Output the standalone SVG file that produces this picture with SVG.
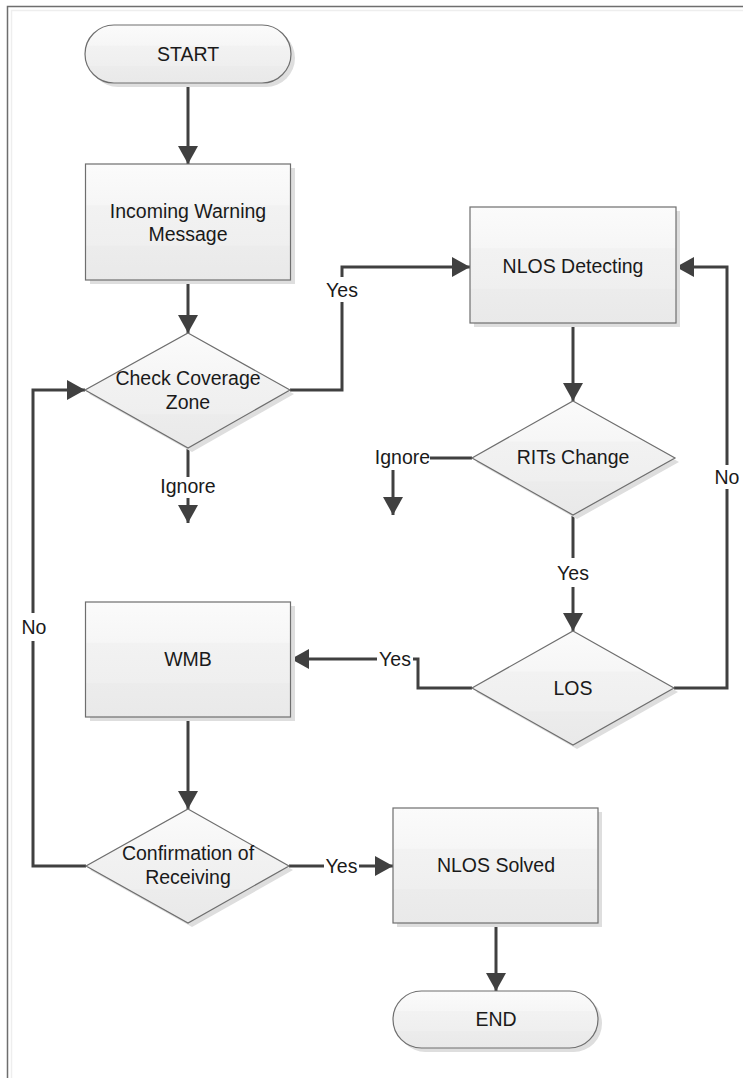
<svg xmlns="http://www.w3.org/2000/svg" width="743" height="1078" viewBox="0 0 743 1078">
<defs>
<linearGradient id="fillg" x1="0" y1="0" x2="0" y2="1">
<stop offset="0" stop-color="#fbfbfb"/>
<stop offset="0.35" stop-color="#f6f6f6"/>
<stop offset="0.36" stop-color="#f2f2f2"/>
<stop offset="0.7" stop-color="#efefef"/>
<stop offset="0.71" stop-color="#ececec"/>
<stop offset="1" stop-color="#e9e9e9"/>
</linearGradient>
<marker id="arr" markerUnits="userSpaceOnUse" markerWidth="20" markerHeight="20" viewBox="0 0 18 20" refX="18" refY="10" orient="auto">
<path d="M0,0 L18,10 L0,20 Z" fill="#404040"/>
</marker>
<style>
.shape{fill:url(#fillg);stroke:#6e6e6e;stroke-width:1.2}
.shadow{fill:#dedede}
.t{font-family:"Liberation Sans",Arial,sans-serif;font-size:19.5px;fill:#1a1a1a;text-anchor:middle}
.c{fill:none;stroke:#404040;stroke-width:3}
</style>
</defs>
<rect x="0" y="0" width="743" height="1078" fill="#ffffff"/>
<path d="M7.5,1078 V6.5 H743" fill="none" stroke="#6e6e6e" stroke-width="1.5"/>
<path d="M11.5,1078 V10.5 H743" fill="none" stroke="#eeeeee" stroke-width="1.5"/>

<g id="connectors">
<path class="c" d="M188,83 V164" marker-end="url(#arr)"/>
<path class="c" d="M188,280 V333" marker-end="url(#arr)"/>
<path class="c" d="M290,390 H342 V302"/>
<path class="c" d="M342,277 V267 H470" marker-end="url(#arr)"/>
<path class="c" d="M188,448 V477"/>
<path class="c" d="M188,498 V523" marker-end="url(#arr)"/>
<path class="c" d="M573,323 V401" marker-end="url(#arr)"/>
<path class="c" d="M472,458 H430"/>
<path class="c" d="M393,470 V515" marker-end="url(#arr)"/>
<path class="c" d="M573,515 V558"/>
<path class="c" d="M573,587 V631" marker-end="url(#arr)"/>
<path class="c" d="M674,688 H727 V489"/>
<path class="c" d="M727,465 V267 H676" marker-end="url(#arr)"/>
<path class="c" d="M472,688 H418 V659 H413"/>
<path class="c" d="M377,659 H291" marker-end="url(#arr)"/>
<path class="c" d="M188,717 V809" marker-end="url(#arr)"/>
<path class="c" d="M86,866 H33 V641"/>
<path class="c" d="M33,613 V390 H85" marker-end="url(#arr)"/>
<path class="c" d="M289,866 H324"/>
<path class="c" d="M359,866 H393" marker-end="url(#arr)"/>
<path class="c" d="M496,923 V991" marker-end="url(#arr)"/>
<text class="t" x="342" y="296.5">Yes</text>
<text class="t" x="188" y="492.5">Ignore</text>
<text class="t" x="402.5" y="464">Ignore</text>
<text class="t" x="573" y="579.5">Yes</text>
<text class="t" x="727" y="483.5">No</text>
<text class="t" x="395" y="666">Yes</text>
<text class="t" x="34" y="634">No</text>
<text class="t" x="341.5" y="872.5">Yes</text>
</g>

<g id="start">
<rect class="shadow" x="89" y="29" width="206" height="58" rx="29"/>
<rect class="shape" x="85" y="25" width="206" height="58" rx="29"/>
<text class="t" x="188" y="60.5">START</text>
</g>

<g id="incoming">
<rect class="shadow" x="90" y="168" width="205" height="116"/>
<rect class="shape" x="85.5" y="164" width="205" height="116"/>
<text class="t" x="188" y="217.5">Incoming Warning</text>
<text class="t" x="188" y="241">Message</text>
</g>

<g id="nlos-detecting">
<rect class="shadow" x="474" y="211" width="206" height="116"/>
<rect class="shape" x="470" y="207" width="206" height="116"/>
<text class="t" x="573" y="272.5">NLOS Detecting</text>
</g>

<g id="check-coverage">
<path class="shadow" d="M192,337 L294,394 L192,452 L89,394 Z"/>
<path class="shape" d="M188,333 L290,390 L188,448 L85,390 Z"/>
<text class="t" x="188" y="384.5">Check Coverage</text>
<text class="t" x="188" y="408.5">Zone</text>
</g>

<g id="rits-change">
<path class="shadow" d="M577,405 L679,462 L577,519 L476,462 Z"/>
<path class="shape" d="M573,401 L675,458 L573,515 L472,458 Z"/>
<text class="t" x="573" y="464">RITs Change</text>
</g>

<g id="los">
<path class="shadow" d="M577,635 L678,692 L577,749 L476,692 Z"/>
<path class="shape" d="M573,631 L674,688 L573,745 L472,688 Z"/>
<text class="t" x="573" y="695">LOS</text>
</g>

<g id="wmb">
<rect class="shadow" x="90" y="606" width="205" height="115"/>
<rect class="shape" x="85.5" y="602" width="205" height="115"/>
<text class="t" x="188" y="666">WMB</text>
</g>

<g id="confirmation">
<path class="shadow" d="M192,813 L293,870 L192,927 L90,870 Z"/>
<path class="shape" d="M188,809 L289,866 L188,923 L86,866 Z"/>
<text class="t" x="188" y="860">Confirmation of</text>
<text class="t" x="188" y="883.5">Receiving</text>
</g>

<g id="nlos-solved">
<rect class="shadow" x="397" y="812" width="205" height="115"/>
<rect class="shape" x="393" y="808" width="205" height="115"/>
<text class="t" x="496" y="872">NLOS Solved</text>
</g>

<g id="end">
<rect class="shadow" x="397" y="995" width="205" height="57" rx="28.5"/>
<rect class="shape" x="393" y="991" width="205" height="57" rx="28.5"/>
<text class="t" x="496" y="1026">END</text>
</g>
</svg>
